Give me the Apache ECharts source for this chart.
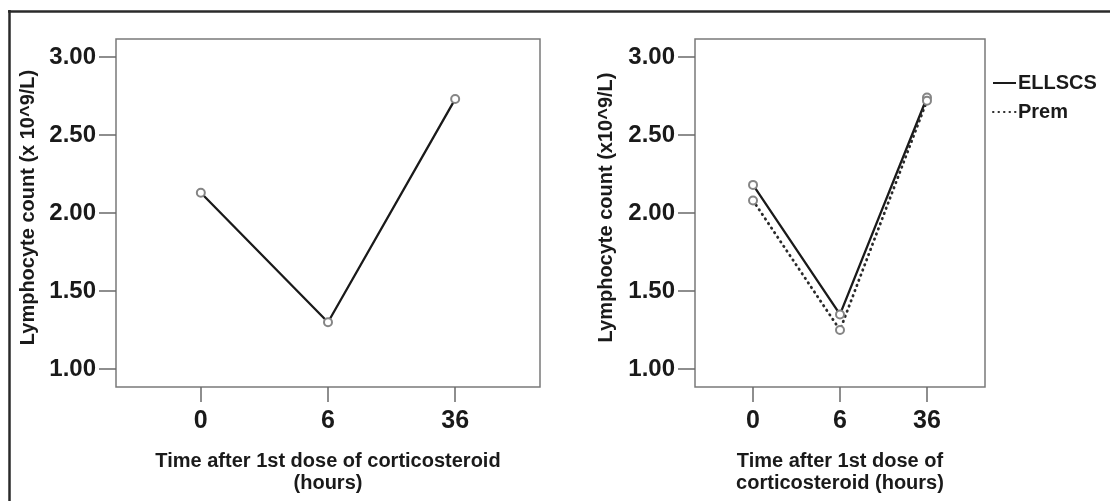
<!DOCTYPE html>
<html>
<head>
<meta charset="utf-8">
<script src="https://cdn.jsdelivr.net/npm/echarts@6/dist/echarts.min.js"></script>
<style>
html,body{margin:0;padding:0;background:#fff;}
#chart{width:1110px;height:503px;}
</style>
</head>
<body>
<div id="chart"></div>
<script>
// ---- data ----
var timeLabels = ['0', '6', '36'];
var yTicks = [1.0, 1.5, 2.0, 2.5, 3.0];
var allValues = [2.13, 1.30, 2.73];
var ellscsValues = [2.18, 1.35, 2.74];
var premValues = [2.08, 1.25, 2.72];
var seriesNames = ['ELLSCS', 'Prem'];

function toPoints(vals) { return vals.map(function (v, i) { return [i, v]; }); }

var FONT = '"Liberation Sans", Arial, sans-serif';
var TXT = '#1a1a1a';

function xAxisFor(gridIndex, name) {
  return {
    type: 'value', gridIndex: gridIndex,
    min: -0.667, max: 2.667,
    splitLine: { show: false },
    axisLine: { show: false, onZero: false },
    axisTick: { show: true, customValues: [0, 1, 2], length: 15, inside: false,
      lineStyle: { color: '#6a6a6a', width: 1.5 } },
    axisLabel: { customValues: [0, 1, 2], margin: 22,
      formatter: function (v) { return timeLabels[Math.round(v)]; },
      fontFamily: FONT, fontWeight: 'bold', fontSize: 25, color: TXT },
    name: name, nameLocation: 'middle', nameGap: 63,
    nameTextStyle: { fontFamily: FONT, fontWeight: 'bold', fontSize: 20, color: TXT, lineHeight: 22 }
  };
}
function yAxisFor(gridIndex, name, gap) {
  return {
    type: 'value', gridIndex: gridIndex,
    min: 0.885, max: 3.115,
    splitLine: { show: false },
    axisLine: { show: false, onZero: false },
    axisTick: { show: true, customValues: yTicks, length: 17,
      lineStyle: { color: '#6a6a6a', width: 1.5 } },
    axisLabel: { customValues: yTicks, margin: 20,
      formatter: function (v) { return v.toFixed(2); },
      fontFamily: FONT, fontWeight: 'bold', fontSize: 24, color: TXT },
    name: name, nameLocation: 'middle', nameGap: gap, nameRotate: 90,
    nameTextStyle: { fontFamily: FONT, fontWeight: 'bold', fontSize: 20, color: TXT, padding: [0, 0, 0, 11] }
  };
}

var markerStyle = { color: '#858585', borderWidth: 1.6 };

var chart = echarts.init(document.getElementById('chart'), null, { renderer: 'canvas' });
chart.setOption({
  animation: false,
  backgroundColor: '#ffffff',
  grid: [
    { left: 116, top: 39, width: 424, height: 348, show: true, borderColor: '#7a7a7a', borderWidth: 1.5, backgroundColor: 'transparent' },
    { left: 695, top: 39, width: 290, height: 348, show: true, borderColor: '#7a7a7a', borderWidth: 1.5, backgroundColor: 'transparent' }
  ],
  xAxis: [
    xAxisFor(0, 'Time after 1st dose of corticosteroid\n(hours)'),
    xAxisFor(1, 'Time after 1st dose of\ncorticosteroid (hours)')
  ],
  yAxis: [
    yAxisFor(0, 'Lymphocyte count (x 10^9/L)', 78),
    yAxisFor(1, 'Lymphocyte count (x10^9/L)', 79)
  ],
  legend: {
    data: seriesNames,
    orient: 'vertical', left: 987, top: 68,
    itemWidth: 23, itemHeight: 14, itemGap: 9,
    itemStyle: { opacity: 0 },
    textStyle: { fontFamily: FONT, fontWeight: 'bold', fontSize: 20, color: TXT, padding: [0, 0, 0, -3] }
  },
  graphic: [
    { type: 'line', shape: { x1: 8, y1: 11.5, x2: 1110, y2: 11.5 }, style: { stroke: '#2a2a2a', lineWidth: 2.5 } },
    { type: 'line', shape: { x1: 9.5, y1: 10, x2: 9.5, y2: 501 }, style: { stroke: '#2a2a2a', lineWidth: 2.5 } }
  ],
  series: [
    { name: 'All', type: 'line', xAxisIndex: 0, yAxisIndex: 0, data: toPoints(allValues),
      symbol: 'emptyCircle', symbolSize: 8, itemStyle: markerStyle,
      lineStyle: { color: '#1a1a1a', width: 2.3 } },
    { name: 'ELLSCS', type: 'line', xAxisIndex: 1, yAxisIndex: 1, data: toPoints(ellscsValues),
      symbol: 'emptyCircle', symbolSize: 8, itemStyle: markerStyle,
      lineStyle: { color: '#1a1a1a', width: 2.3 } },
    { name: 'Prem', type: 'line', xAxisIndex: 1, yAxisIndex: 1, data: toPoints(premValues),
      symbol: 'emptyCircle', symbolSize: 8, itemStyle: markerStyle,
      lineStyle: { color: '#2a2a2a', width: 2.8, type: [0.5, 5], cap: 'round' } }
  ]
});
</script>
</body>
</html>
